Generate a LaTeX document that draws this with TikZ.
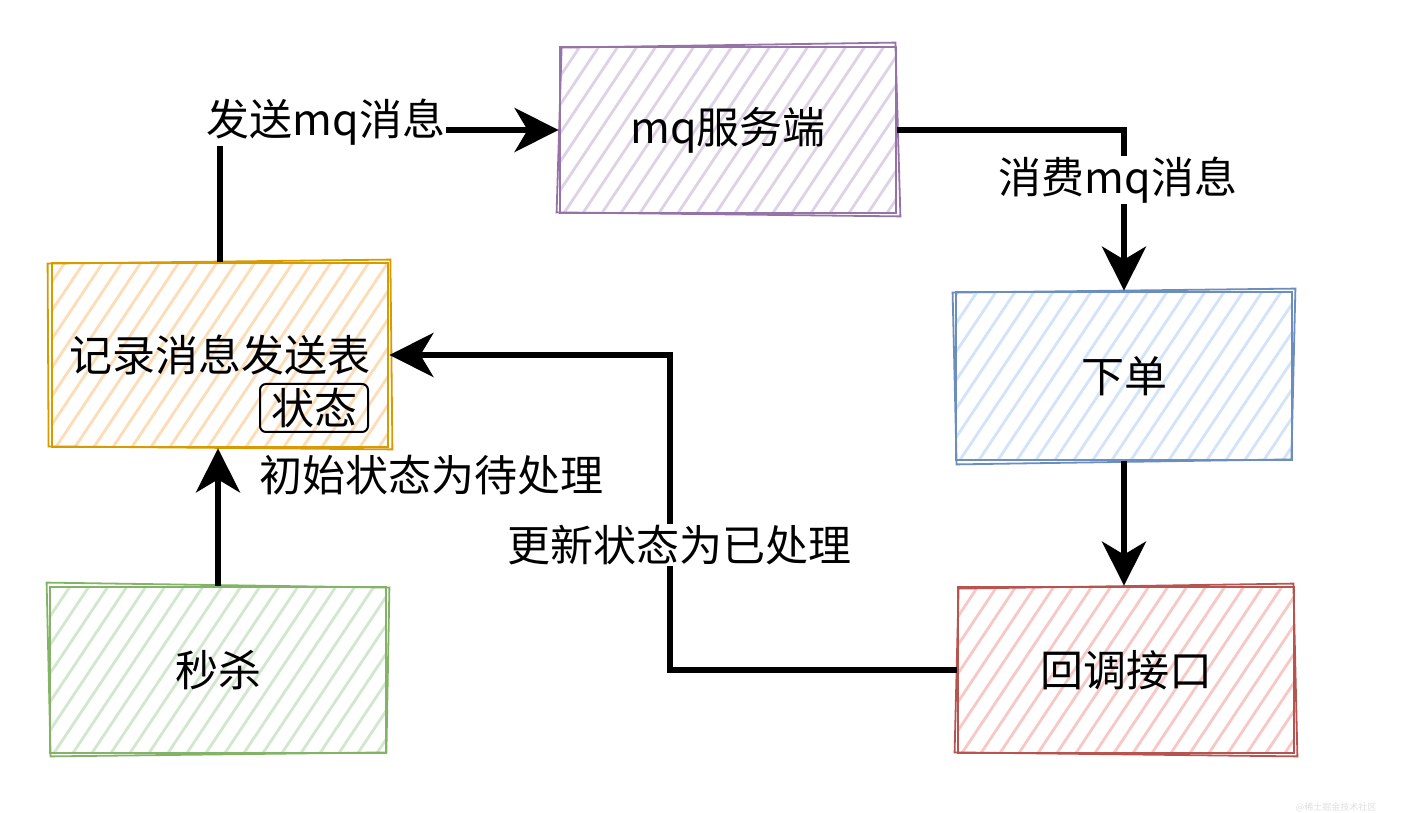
\documentclass[tikz,border=0pt]{standalone}
\usepackage{fontspec}
\setmainfont{Noto Sans CJK SC}
\usetikzlibrary{arrows.meta,calc}
\definecolor{oS}{HTML}{D79B00}\definecolor{oF}{HTML}{FDDCB8}
\definecolor{gS}{HTML}{82B366}\definecolor{gF}{HTML}{D2E7CE}
\definecolor{pS}{HTML}{9673A6}\definecolor{pF}{HTML}{DED2E6}
\definecolor{bS}{HTML}{6C8EBF}\definecolor{bF}{HTML}{D3E4FA}
\definecolor{rS}{HTML}{B85450}\definecolor{rF}{HTML}{F6C9C7}
\tikzset{
  x=1pt, y=1pt,
  big/.style={font=\fontsize{43}{50}\selectfont},
  skbox/.style 2 args={draw=#1, line width=2.8pt, minimum width=336pt, minimum height=166pt,
    inner sep=0pt, big,
    path picture={\foreach \k in {-9,...,19}
      \draw[#2, line width=2.8pt] ($(path picture bounding box.south west)+(\k*19,-6)$) -- ++(150,225);}},
  arr/.style={line width=6pt, -{Stealth[length=44pt,width=44pt,inset=13pt]}},
  lbl/.style={big, inner sep=1pt},
  second/.style={line width=1.8pt}
}
\begin{document}
\begin{tikzpicture}
\useasboundingbox[fill=white] (0,0) rectangle (1414,812);
% boxes
\node[skbox={oS}{oF}, minimum height=184pt] (rec) at (220,457) {记录消息发送表};
\node[skbox={gS}{gF}] (ms) at (218,142) {秒杀};
\node[skbox={pS}{pF}] (mq) at (728,682) {mq服务端};
\node[skbox={bS}{bF}, minimum height=168pt] (xd) at (1124,436) {下单};
\node[skbox={rS}{rF}] (hd) at (1126,142) {回调接口};
% second sketch strokes
\draw[oS, second] ($(rec.south west)+(-2,2)$) -- ($(rec.south east)+(3,-1)$) -- ($(rec.north east)+(1,2)$) -- ($(rec.north west)+(-3,-2)$) -- cycle;
\draw[gS, second] ($(ms.south west)+(2,-2)$) -- ($(ms.south east)+(-1,2)$) -- ($(ms.north east)+(2,-2)$) -- ($(ms.north west)+(-2,3)$) -- cycle;
\draw[pS, second] ($(mq.south west)+(-2,2)$) -- ($(mq.south east)+(3,-2)$) -- ($(mq.north east)+(-2,3)$) -- ($(mq.north west)+(3,-2)$) -- cycle;
\draw[bS, second] ($(xd.south west)+(2,-3)$) -- ($(xd.south east)+(-2,2)$) -- ($(xd.north east)+(2,2)$) -- ($(xd.north west)+(-2,-2)$) -- cycle;
\draw[rS, second] ($(hd.south west)+(-2,2)$) -- ($(hd.south east)+(2,-2)$) -- ($(hd.north east)+(-2,2)$) -- ($(hd.north west)+(2,-3)$) -- cycle;
% state tag
\node[draw, line width=2pt, rounded corners=6pt, minimum width=108pt, minimum height=48pt,
      inner sep=0pt, big] (st) at (314,404) {状态};
% connectors
\draw[arr] (ms.north) -- (ms.north |- rec.south);
\draw[arr] (rec.north) |- (mq.west);
\draw[arr] (mq.east) -| (xd.north);
\draw[arr] (xd.south) -- (xd.south |- hd.north);
\coordinate (turn) at (670,300);
\draw[arr] (hd.west) -- (hd.west -| turn) -- (turn |- rec.east) -- (rec.east);
% labels
\node[lbl, fill=white] (l1) at (326,690) {发送mq消息};
\node[lbl, fill=white] (l2) at (1118,632) {消费mq消息};
\node[lbl] (l3) at (431,337) {初始状态为待处理};
\node[lbl, fill=white] (l4) at (679,267) {更新状态为已处理};
\node[font=\fontsize{9}{10}\selectfont, text=gray!25, inner sep=0pt] (wm) at (1336,5) {@稀土掘金技术社区};
\end{tikzpicture}
\end{document}
